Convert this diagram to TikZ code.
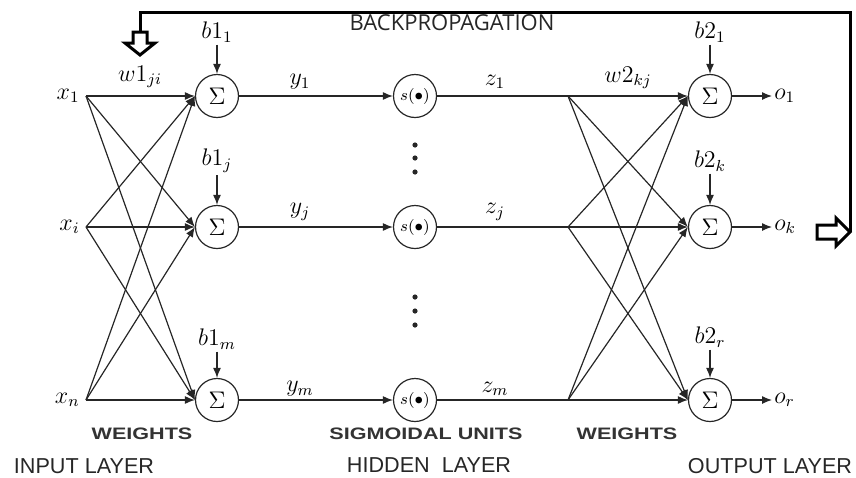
\documentclass[tikz,border=0pt]{standalone}
\usepackage{fontspec}
\usepackage{graphicx}
\setsansfont{Liberation Sans}
\newfontfamily\bpfont{Open Sans}
\usetikzlibrary{arrows.meta}

\begin{document}
\begin{tikzpicture}[x=0.5pt, y=-0.5pt,
    unit/.style={draw=black!85, circle, line width=0.6pt, minimum size=21.5pt, inner sep=0pt, font=\fontsize{12.5}{13}\selectfont},
    sig/.style={unit, font=\fontsize{8.5}{9}\selectfont},
    conn/.style={draw=black!85, line width=0.6pt, -{Latex[length=5pt, width=4pt]}},
    wire/.style={draw=black!85, line width=0.6pt},
    lbl/.style={font=\fontsize{11.5}{13}\selectfont, inner sep=1pt},
    captext/.style={font=\sffamily\bfseries\fontsize{8.3}{10}\selectfont, text=black!80},
    layer/.style={font=\sffamily\fontsize{10.8}{13}\selectfont, text=black!85},
    back/.style={line width=1.5pt, line join=miter}]
    \useasboundingbox (0,0) rectangle (856,477);
    % Input points
    \coordinate (in1) at (86,96); \coordinate (ini) at (86,227); \coordinate (inn) at (86,400);
    \node[lbl, left=2pt] (x1) at (in1) {$x_1$}; \node[lbl, left=2pt] (xi) at (ini) {$x_i$}; \node[lbl, left=2pt] (xn) at (inn) {$x_n$};
    % Hidden layer: sums and sigmoids
    \node[unit] (h1) at (217,96) {$\Sigma$}; \node[unit] (hj) at (217,227) {$\Sigma$}; \node[unit] (hm) at (217,400) {$\Sigma$};
    \node[sig] (g1) at (415,96) {$s(\bullet)$}; \node[sig] (gj) at (415,227) {$s(\bullet)$}; \node[sig] (gm) at (415,400) {$s(\bullet)$};
    % Output layer
    \coordinate (f1) at (568,96); \coordinate (fj) at (568,227); \coordinate (fm) at (568,400);
    \node[unit] (t1) at (710,96) {$\Sigma$}; \node[unit] (tk) at (710,227) {$\Sigma$}; \node[unit] (tr) at (710,400) {$\Sigma$};
    \node[lbl, anchor=west] (o1) at (772,96) {$o_1$}; \node[lbl, anchor=west] (ok) at (772,227) {$o_k$}; \node[lbl, anchor=west] (or) at (772,400) {$o_r$};
    % Biases
    \node[lbl] (b11) at (217,32) {$b1_1$}; \node[lbl] (b1j) at (217,161) {$b1_j$}; \node[lbl] (b1m) at (217,339) {$b1_m$};
    \node[lbl] (b21) at (710,32) {$b2_1$}; \node[lbl] (b2k) at (710,161) {$b2_k$}; \node[lbl] (b2r) at (710,337) {$b2_r$};
    \draw[conn] (b11) -- (h1); \draw[conn] (b1j) -- (hj); \draw[conn] (b1m) -- (hm);
    \draw[conn] (b21) -- (t1); \draw[conn] (b2k) -- (tk); \draw[conn] (b2r) -- (tr);
    % Weights, fully connected
    \foreach \a in {in1,ini,inn}
        \foreach \b in {h1,hj,hm}
            \draw[conn] (\a) -- (\b.west);
    \foreach \a in {f1,fj,fm}
        \foreach \b in {t1,tk,tr}
            \draw[conn] (\a) -- (\b.west);
    % Hidden connections
    \draw[conn] (h1) -- (g1); \draw[conn] (hj) -- (gj); \draw[conn] (hm) -- (gm);
    \draw[wire] (g1) -- (f1); \draw[wire] (gj) -- (fj); \draw[wire] (gm) -- (fm);
    \draw[conn] (t1) -- (o1); \draw[conn] (tk) -- (ok); \draw[conn] (tr) -- (or);
    % Edge labels
    \node[lbl] (w1) at (140,77) {$w1_{ji}$}; \node[lbl] (w2) at (628,78) {$w2_{kj}$};
    \node[lbl] (y1) at (300,82) {$y_1$}; \node[lbl] (yj) at (300,212) {$y_j$}; \node[lbl] (ym) at (300,389) {$y_m$};
    \node[lbl] (z1) at (495,82) {$z_1$}; \node[lbl] (zj) at (495,212) {$z_j$}; \node[lbl] (zm) at (495,389) {$z_m$};
    % Dots
    \foreach \y in {145,158,172,297,311,325}
        \fill[black!85] (415,\y) circle (1.3pt);
    % Backpropagation loop
    \coordinate (bpR) at (850,232); \coordinate (bpTR) at (850,12); \coordinate (bpTL) at (140,12); \coordinate (bpL) at (140,32);
    \draw[back] (bpR) -- (bpTR) -- (bpTL) -- (bpL);
    \draw[back, fill=white] (817,225) -- (836,225) -- (836,218) -- (850,232) -- (836,246) -- (836,239) -- (817,239) -- cycle;
    \draw[back, fill=white] (133,32) -- (147,32) -- (147,43) -- (155,43) -- (140,55) -- (125,43) -- (133,43) -- cycle;
    \node[font=\bpfont\fontsize{11}{13}\selectfont, text=black!85] (bp) at (452,23) {BACKPROPAGATION};
    % Bottom captions
    \node[captext] (wt1) at (142,434) {\scalebox{1.3}[1]{WEIGHTS}};
    \node[captext] (su) at (426,434) {\scalebox{1.3}[1]{SIGMOIDAL UNITS}};
    \node[captext] (wt2) at (627,434) {\scalebox{1.3}[1]{WEIGHTS}};
    \node[layer] (il) at (84,466) {INPUT LAYER};
    \node[layer] (hl) at (429,465) {HIDDEN\ \ LAYER};
    \node[layer] (ol) at (770,466) {OUTPUT LAYER};
\end{tikzpicture}
\end{document}
